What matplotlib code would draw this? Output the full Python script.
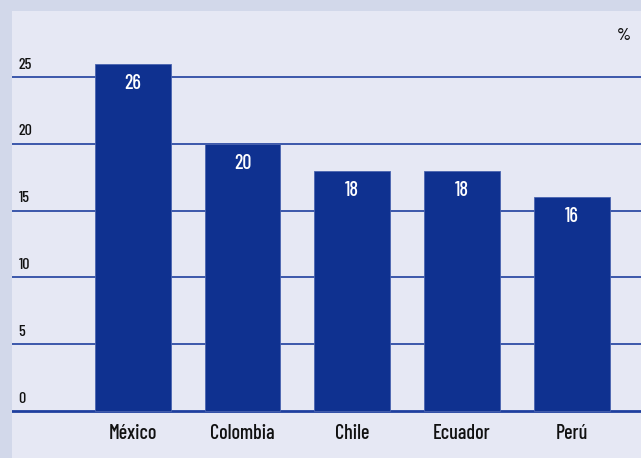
import matplotlib
matplotlib.use("Agg")
from matplotlib import pyplot as plt

countries = ["México", "Colombia", "Chile", "Ecuador", "Perú"]
values = [26, 20, 18, 18, 16]
yticks = [0, 5, 10, 15, 20, 25]

plt.rcParams["font.family"] = ["Barlow Condensed", "DejaVu Sans"]
plt.rcParams["font.weight"] = "medium"

bg_outer = "#d2d8ea"
bg_panel = "#e6e8f4"
bar_col = "#0f3190"
line_col = "#1f3f9e"

dpi = 100
fig = plt.figure(figsize=(641 / dpi, 458 / dpi), dpi=dpi)
fig.patch.set_facecolor(bg_outer)
ax = fig.add_axes([12 / 641, 0, 629 / 641, 447 / 458])
ax.set_facecolor(bg_panel)
ax.set_xlim(-1.10, 4.63)
ax.set_ylim(-3.52, 29.94)
for s in ax.spines.values():
    s.set_visible(False)
ax.set_xticks([])
ax.set_yticks([])

for t in yticks:
    lw = 2.0 if t == 0 else 1.2
    ax.axhline(t, color=line_col, lw=lw, zorder=1)
    ax.text(-1.04, t + 0.4, str(t), fontsize=11.5, color="#111111", va="bottom", ha="left")

xs = range(len(countries))
ax.bar(xs, values, width=0.69, color=bar_col, edgecolor="#4a64b0", linewidth=0.6, zorder=2)
for x, v in zip(xs, values):
    ax.text(x, v - 0.75, str(v), color="white", fontsize=14.5, ha="center", va="top", zorder=3)
    ax.text(x, -1.65, countries[x], color="#111111", fontsize=14.5, ha="center", va="center")

ax.text(4.47, 28.1, "%", fontsize=13, color="#111111", ha="center", va="center")

fig.savefig("out.png", dpi=dpi, facecolor=fig.get_facecolor())
